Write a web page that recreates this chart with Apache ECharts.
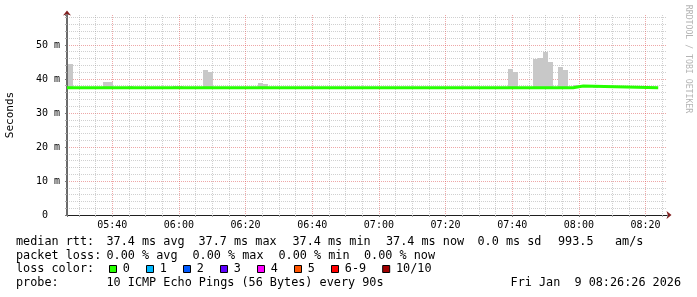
<!DOCTYPE html>
<html><head><meta charset="utf-8">
<script src="https://cdn.jsdelivr.net/npm/echarts@6/dist/echarts.min.js"></script>
<style>html,body{margin:0;padding:0;background:#fff}#c{width:697px;height:297px}</style>
</head><body><div id="c"></div>
<script>
// ---------- data ----------
const graphStart = "05:26:26";
const graphEnd = "08:26:26";
const yMax = 58.8;

// median RTT (ms) as constant segments [start, end) -> value
const medianStart  = ["05:26:26", "07:58:18", "08:01:18"];
const medianEnd    = ["07:58:18", "08:01:18", "08:23:48"];
const medianValues = [37.4, 37.9, 37.4];

// smoke (spread of the pings, ms)
const smokeStart = ["05:26:26","05:37:18","05:38:48","05:44:48","05:58:18","06:07:18","06:08:48","06:23:48","06:25:18","07:38:48","07:40:18","07:46:18","07:47:48","07:49:18","07:50:48","07:53:48","07:55:18","07:58:18","08:04:18"];
const smokeEnd   = ["05:28:18","05:38:48","05:40:18","05:46:18","06:01:18","06:08:48","06:10:18","06:25:18","06:26:48","07:40:18","07:41:48","07:47:48","07:49:18","07:50:48","07:52:18","07:55:18","07:56:48","08:01:18","08:05:48"];
const smokeTop   = [44.4, 39.1, 39.0, 37.9, 37.9, 42.6, 42.0, 38.8, 38.5, 42.9, 42.0, 45.9, 46.2, 47.9, 45.0, 43.5, 42.6, 38.3, 37.9];
const smokeLow   = [37.4, 37.4, 37.4, 37.4, 37.4, 37.4, 37.4, 37.4, 37.4, 37.4, 37.4, 37.4, 37.4, 37.4, 37.4, 37.4, 37.4, 37.9, 37.4];

// legend texts
const rttStats  = ["median rtt:", "37.4 ms avg", "37.7 ms max", "37.4 ms min", "37.4 ms now", "0.0 ms sd", "993.5", "am/s"];
const lossStats = ["packet loss:", "0.00 % avg", "0.00 % max", "0.00 % min", "0.00 % now"];
const lossTitle = "loss color:";
const lossLabels = ["0", "1", "2", "3", "4", "5", "6-9", "10/10"];
const lossColors = ["#26ff00", "#00b8ff", "#0059ff", "#5e00ff", "#ff00ff", "#ff5500", "#ff0000", "#a10000"];
const probeText = ["probe:", "10 ICMP Echo Pings (56 Bytes) every 90s"];
const stampText = "Fri Jan  9 08:26:26 2026";
const axisTitle = "Seconds";
const watermark = "RRDTOOL / TOBI OETIKER";

// ---------- helpers ----------
// x axis unit: 10 minutes since midnight (so a 20-minute step is a "nice" interval)
function toX(t) { const p = t.split(":").map(Number); return (p[0] * 3600 + p[1] * 60 + p[2]) / 600; }
function fmtTime(v) {
  const s = Math.round(v * 600);
  const h = Math.floor(s / 3600), m = Math.floor((s % 3600) / 60);
  return String(h).padStart(2, "0") + ":" + String(m).padStart(2, "0");
}
const MONO = '"DejaVu Sans Mono", monospace';
const LF = '11.8px ' + MONO;

const xMin = toX(graphStart), xMax = toX(graphEnd);

// median polyline: each segment drawn flat, joined by vertical steps
const medianPoints = [];
medianStart.forEach((s, i) => {
  medianPoints.push([toX(s), medianValues[i]]);
  medianPoints.push([toX(medianEnd[i]), medianValues[i]]);
});

// ---------- legend graphics (layout) ----------
const graphics = [];
function txt(s, x, y, opts) {
  graphics.push(Object.assign({ type: 'text', x: x, y: y, silent: true,
    style: Object.assign({ text: s, font: LF, fill: '#000', align: 'left', verticalAlign: 'middle' }, opts || {}) }));
}
const rttX = [16, 106.5, 198.5, 292.5, 386, 477.5, 558, 615];
rttStats.forEach((s, i) => txt(s, rttX[i], 242));
const lossX = [16, 106.5, 192.5, 278.5, 364];
lossStats.forEach((s, i) => txt(s, lossX[i], 255.5));
txt(lossTitle, 16, 269.3);
let bx = 109;
lossLabels.forEach((lab, i) => {
  graphics.push({ type: 'rect', silent: true, shape: { x: bx + 0.5, y: 265.5, width: 7, height: 7 },
    style: { fill: lossColors[i], stroke: '#000', lineWidth: 1 } });
  txt(lab, bx + 13.8, 269.3);
  bx += 37 + (lab.length - 1) * 7.1;
});
txt(probeText[0], 16, 283.3);
txt(probeText[1], 106.5, 283.3);
txt(stampText, 681, 283.3, { align: 'right' });
graphics.push({ type: 'text', x: 688, y: 59, rotation: -Math.PI / 2, silent: true,
  style: { text: watermark, font: '8.2px ' + MONO, fill: '#b4b4b4', align: 'center', verticalAlign: 'middle' } });

// ---------- chart ----------
const chart = echarts.init(document.getElementById('c'), null, { renderer: 'canvas' });
const gridMinor = { color: 'rgba(143,143,143,0.42)', type: [1, 1], width: 1 };
const gridMajor = { color: 'rgba(222,79,79,0.5)', type: [1, 1], width: 1 };

chart.setOption({
  animation: false,
  backgroundColor: '#ffffff',
  grid: { left: 67, right: 30, top: 15, bottom: 82, containLabel: false, outerBoundsMode: 'none' },
  xAxis: [
    { type: 'value', position: 'bottom', min: xMin, max: xMax, splitNumber: 9, minInterval: 2, maxInterval: 2, z: 2,
      axisLine: { show: true, onZero: false, lineStyle: { color: '#1f1f1f', width: 1 } },
      axisTick: { show: true, length: 2, lineStyle: { color: '#777' } },
      minorTick: { show: true, splitNumber: 4, length: 2, lineStyle: { color: '#aaa' } },
      axisLabel: { show: true, margin: 5, formatter: fmtTime, showMinLabel: false, showMaxLabel: false,
        fontFamily: MONO, fontSize: 10, color: '#000' },
      splitLine: { show: true, showMinLine: false, showMaxLine: false, lineStyle: gridMajor },
      minorSplitLine: { show: true, lineStyle: gridMinor } },
    { type: 'value', position: 'bottom', min: xMin, max: xMax, z: 1,
      axisLine: { show: true, onZero: false, symbol: ['none', 'arrow'], symbolSize: [6, 5], symbolOffset: [0, 4.5],
        lineStyle: { color: '#801f1f', width: 1 } },
      axisTick: { show: false }, axisLabel: { show: false }, splitLine: { show: false } }
  ],
  yAxis: [
    { type: 'value', position: 'left', min: 0, max: yMax, interval: 10, z: 2,
      name: axisTitle, nameLocation: 'middle', nameRotate: 90, nameGap: 51,
      nameTextStyle: { fontFamily: MONO, fontSize: 11, color: '#000' },
      axisLine: { show: true, onZero: false, lineStyle: { color: '#6a6a6a', width: 2 } },
      axisTick: { show: true, length: 2, lineStyle: { color: '#777' } },
      minorTick: { show: true, splitNumber: 5, length: 2, lineStyle: { color: '#aaa' } },
      axisLabel: { show: true, margin: 7, showMaxLabel: false, fontFamily: MONO, fontSize: 10, color: '#000',
        formatter: v => (v === 0 ? '0  ' : v + ' m') },
      splitLine: { show: true, showMinLine: false, showMaxLine: false, lineStyle: gridMajor },
      minorSplitLine: { show: true, lineStyle: gridMinor } },
    { type: 'value', position: 'left', min: 0, max: yMax, z: 1,
      axisLine: { show: true, onZero: false, symbol: ['none', 'arrow'], symbolSize: [6, 5], symbolOffset: [0, 4.5],
        lineStyle: { color: '#801f1f', width: 1 } },
      axisTick: { show: false }, axisLabel: { show: false }, splitLine: { show: false } }
  ],
  series: [
    { type: 'custom', xAxisIndex: 0, yAxisIndex: 0, clip: true, silent: true, z: 2,
      encode: { x: [0, 1], y: [2, 3] },
      data: smokeStart.map((s, i) => [toX(s), toX(smokeEnd[i]), smokeTop[i], smokeLow[i]]),
      renderItem: function (params, api) {
        const a = api.coord([api.value(0), api.value(3)]);
        const b = api.coord([api.value(1), api.value(2)]);
        const x0 = Math.round(a[0]), x1 = Math.round(b[0]);
        const y0 = Math.round(b[1]), y1 = Math.round(a[1]);
        return { type: 'rect', shape: { x: x0, y: y0, width: x1 - x0, height: y1 - y0 },
          style: { fill: '#c8c8c8' } };
      } },
    { type: 'line', xAxisIndex: 0, yAxisIndex: 0, symbol: 'none', silent: true, z: 3, smooth: false,
      data: medianPoints,
      lineStyle: { color: '#26ff00', width: 3, cap: 'butt', join: 'miter' } }
  ],
  graphic: graphics
});
</script></body></html>
